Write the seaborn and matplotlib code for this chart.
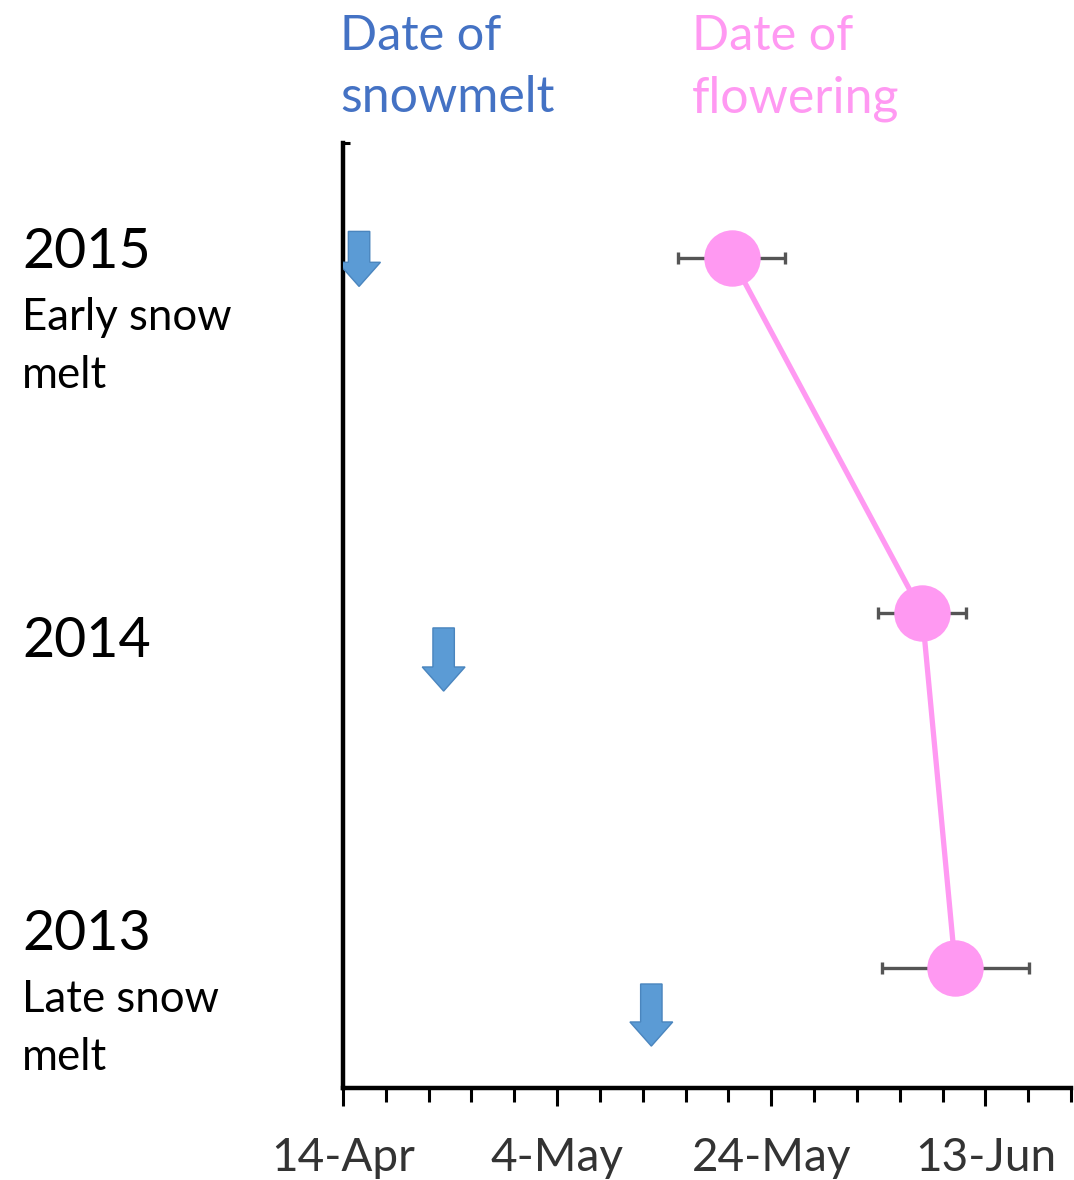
import matplotlib
matplotlib.use("Agg")
import matplotlib.pyplot as plt
from matplotlib.patches import FancyArrow
from matplotlib.ticker import FixedLocator, MultipleLocator
import numpy as np
import pandas as pd
import seaborn as sns

# Survey years, top row = earliest snowmelt
years = [2015, 2014, 2013]
year_notes = ["Early snow\nmelt", "", "Late snow\nmelt"]

# Dates expressed as days after 14 April
snowmelt_day = [1.5, 9.4, 28.8]
flowering_day = [36.3, 54.1, 57.2]
flowering_err = [5.0, 4.1, 6.9]

# x-axis labels every 20 days from 14 April
tick_days = [0, 20, 40, 60]
tick_labels = ["14-Apr", "4-May", "24-May", "13-Jun"]

PINK = "#FF99F2"
BLUE_TEXT = "#4472C4"
ARROW_FILL = "#5B9BD5"
ARROW_EDGE = "#4A85BE"

sns.set_theme(style="white")
plt.rcParams["font.family"] = ["Lato", "DejaVu Sans"]

fig = plt.figure(figsize=(10.74, 11.8), dpi=100)
ax = fig.add_axes([343 / 1074, 1 - 1088 / 1180, (1071 - 343) / 1074, (1088 - 143) / 1180])

df = pd.DataFrame({"year": years, "flower": flowering_day, "err": flowering_err})

# error bars behind the markers
ax.errorbar(df["flower"], df["year"], xerr=df["err"], fmt="none",
            ecolor="#555555", elinewidth=2.4, capsize=4, capthick=2.4, zorder=2)

# connecting line and flowering markers
sns.lineplot(data=df, x="flower", y="year", sort=False, estimator=None,
             color=PINK, linewidth=3.8, ax=ax, zorder=3)
sns.scatterplot(data=df, x="flower", y="year", color=PINK, s=1650,
                linewidth=0, ax=ax, zorder=4)

# snowmelt arrows, tip at the snowmelt date
arrow_tip_offset = [-0.08, -0.22, -0.22]
arrow_len = [0.155, 0.178, 0.175]
for d, yr, off, ln in zip(snowmelt_day, years, arrow_tip_offset, arrow_len):
    tip = yr + off
    ax.add_patch(FancyArrow(d, tip + ln, 0, -ln, width=2.0,
                            head_width=4.0, head_length=0.068,
                            length_includes_head=True, facecolor=ARROW_FILL,
                            edgecolor=ARROW_EDGE, linewidth=1.0, zorder=5))

ax.set_xlim(0, 68)
ax.set_ylim(2012.662, 2015.324)
ax.set_xlabel("")
ax.set_ylabel("")

ax.xaxis.set_major_locator(FixedLocator(tick_days))
ax.set_xticklabels(tick_labels)
ax.xaxis.set_minor_locator(MultipleLocator(4))
ax.tick_params(axis="x", which="major", direction="out", length=13, width=2.2,
               color="black", labelsize=33, labelcolor="#333333", pad=22,
               bottom=True)
ax.tick_params(axis="x", which="minor", direction="out", length=10, width=2.2,
               color="black", bottom=True)

ax.set_yticks([2015.324])
ax.set_yticklabels([""])
ax.tick_params(axis="y", which="major", direction="in", length=5, width=2.2,
               color="black", left=True)

for side in ["top", "right"]:
    ax.spines[side].set_visible(False)
for side in ["left", "bottom"]:
    ax.spines[side].set_color("black")
    ax.spines[side].set_linewidth(3.2)

# column headers
fig.text(340 / 1074, 1 - 50 / 1180, "Date of", color=BLUE_TEXT, fontsize=35,
         va="baseline", ha="left")
fig.text(340 / 1074, 1 - 112 / 1180, "snowmelt", color=BLUE_TEXT, fontsize=36,
         va="baseline", ha="left")
fig.text(692 / 1074, 1 - 50 / 1180, "Date of", color=PINK, fontsize=35,
         va="baseline", ha="left")
fig.text(692 / 1074, 1 - 112 / 1180, "flowering", color=PINK, fontsize=36,
         va="baseline", ha="left")

# year labels with notes
year_baseline = [268, 657, 950]
for yr, note, base in zip(years, year_notes, year_baseline):
    fig.text(22 / 1074, 1 - base / 1180, str(yr), color="black", fontsize=40,
             va="baseline", ha="left")
    for i, line in enumerate(note.split("\n") if note else []):
        fig.text(22 / 1074, 1 - (base + 62 + 58 * i) / 1180, line,
                 color="black", fontsize=31.5, va="baseline", ha="left")

fig.savefig("out.png", dpi=100, facecolor="white")
